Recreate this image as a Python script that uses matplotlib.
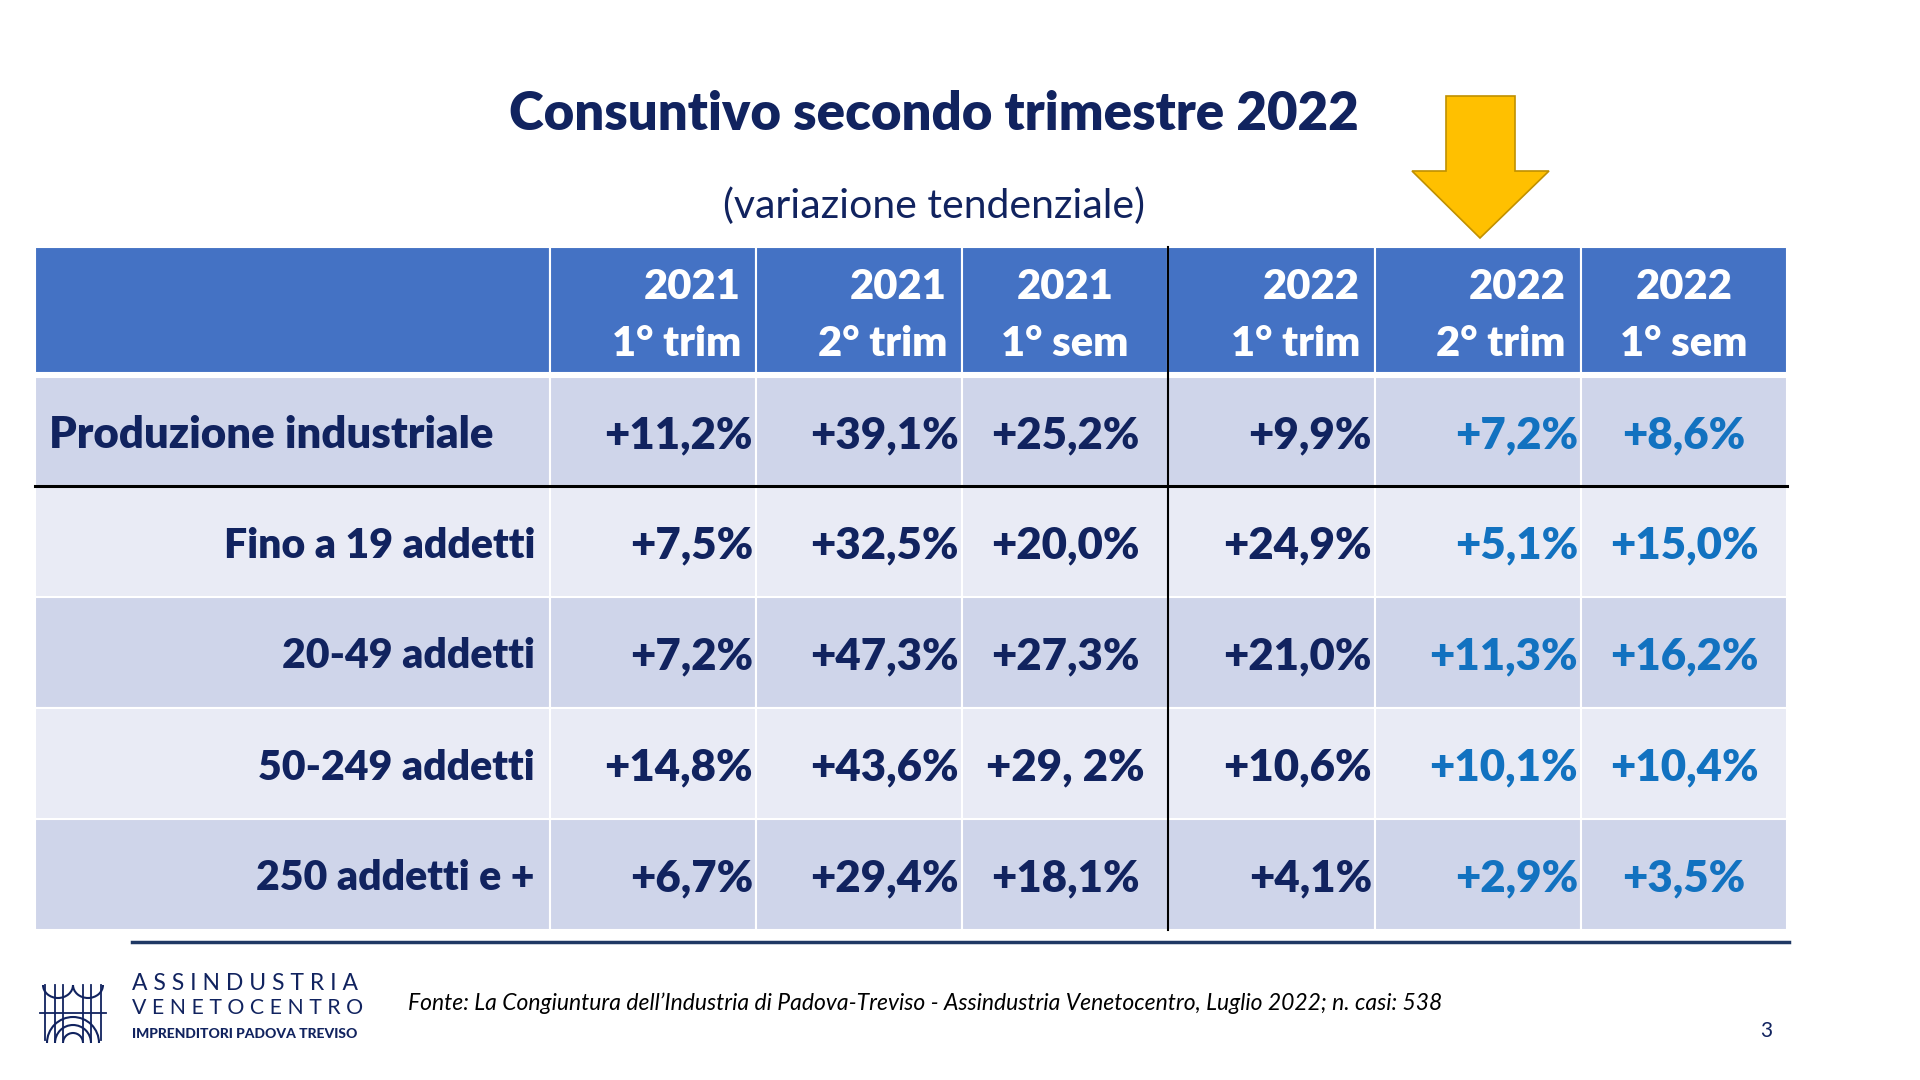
import matplotlib.pyplot as plt
from matplotlib.patches import Rectangle, Polygon, Arc

plt.rcParams['font.family'] = ['Lato', 'DejaVu Sans']

# table data
col_years = ['2021', '2021', '2021', '2022', '2022', '2022']
col_periods = ['1° trim', '2° trim', '1° sem', '1° trim', '2° trim', '1° sem']
row_labels = ['Produzione industriale', 'Fino a 19 addetti', '20-49 addetti',
              '50-249 addetti', '250 addetti e +']
v_2021_q1 = ['+11,2%', '+7,5%', '+7,2%', '+14,8%', '+6,7%']
v_2021_q2 = ['+39,1%', '+32,5%', '+47,3%', '+43,6%', '+29,4%']
v_2021_s1 = ['+25,2%', '+20,0%', '+27,3%', '+29, 2%', '+18,1%']
v_2022_q1 = ['+9,9%', '+24,9%', '+21,0%', '+10,6%', '+4,1%']
v_2022_q2 = ['+7,2%', '+5,1%', '+11,3%', '+10,1%', '+2,9%']
v_2022_s1 = ['+8,6%', '+15,0%', '+16,2%', '+10,4%', '+3,5%']
columns = [v_2021_q1, v_2021_q2, v_2021_s1, v_2022_q1, v_2022_q2, v_2022_s1]

NAVY = '#11235F'
BLUE = '#1272C0'
HEAD = '#4472C4'
DARK = '#CFD5EA'
LIGHT = '#E9EBF5'

# layout (pixels)
xedges = [35, 550, 756, 962, 1168, 1375, 1581, 1787]
head_top, head_bot = 247, 373
yedges = [377, 486, 597, 708, 819, 930]
halign = ['right', 'right', 'center', 'right', 'right', 'center']

fig = plt.figure(figsize=(19.2, 10.8), dpi=100)
ax = fig.add_axes([0, 0, 1, 1])
ax.set_xlim(0, 1920)
ax.set_ylim(1080, 0)
ax.axis('off')

ax.text(934, 115, 'Consuntivo secondo trimestre 2022', ha='center', va='center',
        fontsize=38, fontweight='heavy', color=NAVY)
ax.text(934, 206, '(variazione tendenziale)', ha='center', va='center',
        fontsize=29.5, color=NAVY)

# header
for i in range(7):
    ax.add_patch(Rectangle((xedges[i], head_top), xedges[i + 1] - xedges[i],
                           head_bot - head_top, facecolor=HEAD, edgecolor='white', lw=1.5))
for j in range(6):
    x0, x1 = xedges[j + 1], xedges[j + 2]
    if halign[j] == 'right':
        tx = x1 - 15
    else:
        tx = (x0 + x1) / 2
    ax.text(tx, 287, col_years[j], ha=halign[j], va='center', fontsize=30,
            fontweight='heavy', color='white')
    ax.text(tx, 344, col_periods[j], ha=halign[j], va='center', fontsize=30,
            fontweight='heavy', color='white')

# body
for r in range(5):
    y0, y1 = yedges[r], yedges[r + 1]
    fc = DARK if r % 2 == 0 else LIGHT
    for i in range(7):
        ax.add_patch(Rectangle((xedges[i], y0), xedges[i + 1] - xedges[i], y1 - y0,
                               facecolor=fc, edgecolor='white', lw=1.5))
    yc = (y0 + y1) / 2 + 4
    if r == 0:
        ax.text(49, yc, row_labels[r], ha='left', va='center', fontsize=31.5,
                fontweight='heavy', color=NAVY)
    else:
        ax.text(535, yc, row_labels[r], ha='right', va='center', fontsize=29.5,
                fontweight='heavy', color=NAVY)
    for j in range(6):
        x0, x1 = xedges[j + 1], xedges[j + 2]
        tx = x1 - 3 if halign[j] == 'right' else (x0 + x1) / 2
        color = BLUE if j >= 4 else NAVY
        ax.text(tx, yc, columns[j][r], ha=halign[j], va='center', fontsize=31.5,
                fontweight='heavy', color=color)

ax.plot([1168, 1168], [head_top, yedges[-1]], color='black', lw=1.5)
ax.plot([xedges[0], xedges[-1]], [486, 486], color='black', lw=2.2)
ax.plot([132, 1789], [941.5, 941.5], color='#1F3864', lw=2.5)

# arrow
arrow = Polygon([(1446, 96), (1515, 96), (1515, 171), (1549, 171), (1480, 238),
                 (1412, 171), (1446, 171)], closed=True,
                facecolor='#FFC000', edgecolor='#C09000', lw=1.2)
ax.add_patch(arrow)

# logo
for rr in [10, 18, 26]:
    ax.add_patch(Arc((73, 1043), 2 * rr, 2 * rr, theta1=180, theta2=360,
                     color=NAVY, lw=1.5))
for xx in [45, 55, 63, 83, 91, 101]:
    ax.plot([xx, xx], [985, 1040], color=NAVY, lw=1.3)
ax.add_patch(Arc((58, 985), 30, 26, theta1=0, theta2=180, color=NAVY, lw=1.5))
ax.add_patch(Arc((88, 985), 30, 26, theta1=0, theta2=180, color=NAVY, lw=1.5))
ax.plot([40, 106], [1013, 1013], color=NAVY, lw=1.3)
ax.text(132, 983, 'A S S I N D U S T R I A', ha='left', va='center', fontsize=16.5,
        fontweight='normal', color=NAVY)
ax.text(132, 1008, 'V E N E T O C E N T R O', ha='left', va='center', fontsize=15.3,
        fontweight='normal', color=NAVY)
ax.text(132, 1034, 'IMPRENDITORI PADOVA TREVISO', ha='left', va='center', fontsize=10,
        fontweight='black', color=NAVY)

ax.text(408, 1003, 'Fonte: La Congiuntura dell\u2019Industria di Padova-Treviso - '
        'Assindustria Venetocentro, Luglio 2022; n. casi: 538',
        ha='left', va='center', fontsize=16.5, style='italic', color='black')
ax.text(1766, 1031, '3', ha='center', va='center', fontsize=15, color=NAVY)

fig.savefig('out.png', dpi=100)
